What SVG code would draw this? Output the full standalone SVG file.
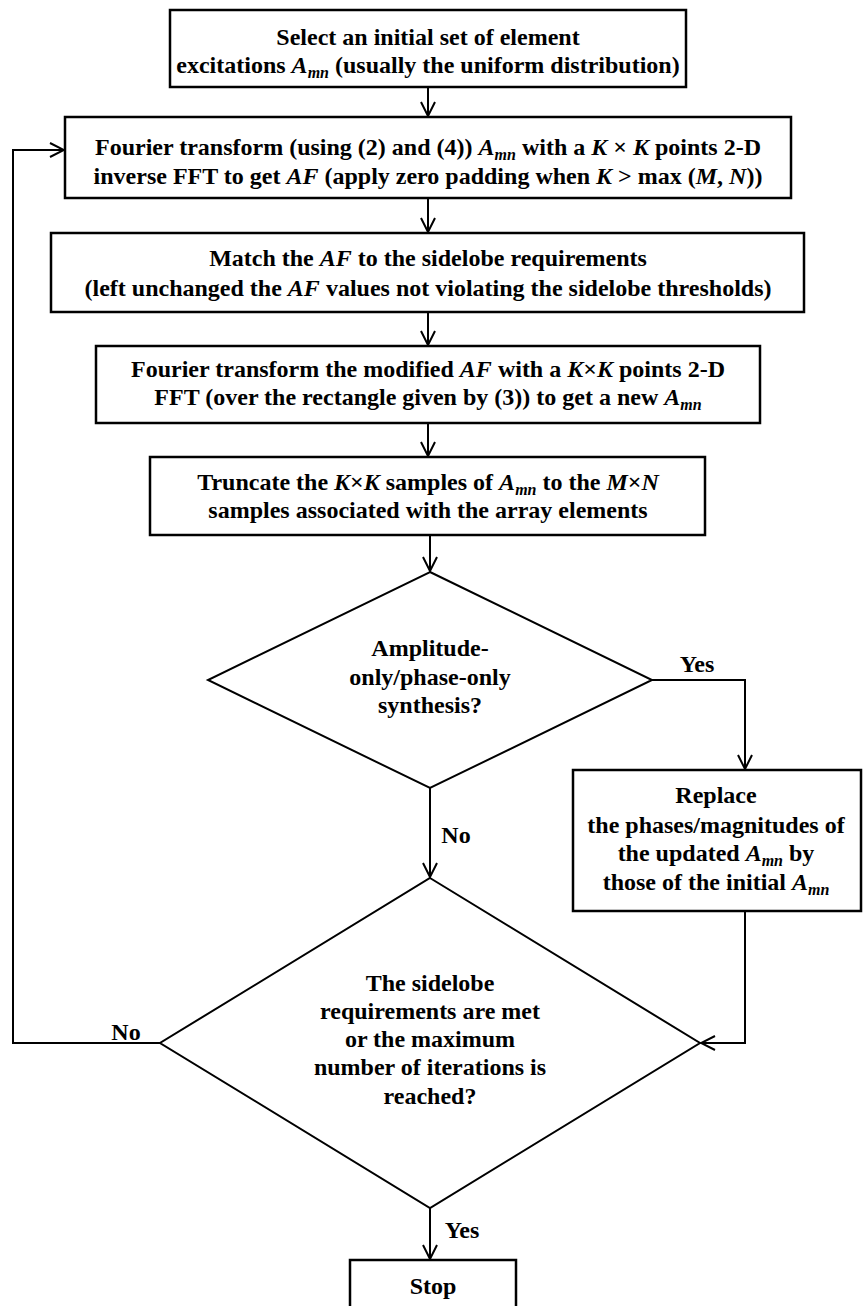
<svg xmlns="http://www.w3.org/2000/svg" width="864" height="1306" viewBox="0 0 864 1306">
<defs>
<style>
.box{fill:#fff;stroke:#000;stroke-width:2.5}
.dia{fill:#fff;stroke:#000;stroke-width:2}
.ln{fill:none;stroke:#000;stroke-width:2}
text{font-family:"Liberation Serif","Times New Roman",serif;font-weight:bold;font-size:24px;fill:#000;text-anchor:middle}
.i{font-style:italic}
.s{font-style:italic;font-size:16px}
</style>
<marker id="ah" viewBox="0 0 16 16" refX="15" refY="8" markerWidth="16" markerHeight="16" markerUnits="userSpaceOnUse" orient="auto">
<path d="M1,1 L15,8 L1,15" fill="none" stroke="#000" stroke-width="2"/>
</marker>
</defs>
<rect width="864" height="1306" fill="#fff"/>
<g id="connectors">
<path class="ln" d="M428,87 V116" marker-end="url(#ah)"/>
<path class="ln" d="M428,198 V232" marker-end="url(#ah)"/>
<path class="ln" d="M428,312 V345" marker-end="url(#ah)"/>
<path class="ln" d="M428,423 V456" marker-end="url(#ah)"/>
<path class="ln" d="M430,535 V571" marker-end="url(#ah)"/>
<path class="ln" d="M652,680 H745 V769" marker-end="url(#ah)"/>
<path class="ln" d="M430,788 V877" marker-end="url(#ah)"/>
<path class="ln" d="M745,911 V1043 H701" marker-end="url(#ah)"/>
<path class="ln" d="M160,1043 H13 V150 H64" marker-end="url(#ah)"/>
<path class="ln" d="M430,1208 V1259" marker-end="url(#ah)"/>
<text x="697" y="672">Yes</text>
<text x="456" y="843">No</text>
<text x="126" y="1040">No</text>
<text x="462" y="1238">Yes</text>
</g>
<g id="n1">
<rect class="box" x="170" y="10" width="516" height="77"/>
<text x="428" y="45">Select an initial set of element</text>
<text x="428" y="73">excitations <tspan class="i">A</tspan><tspan class="s" dy="5">mn</tspan><tspan dy="-5"> (usually the uniform distribution)</tspan></text>
</g>
<g id="n2">
<rect class="box" x="65" y="117" width="726" height="81"/>
<text x="428" y="155">Fourier transform (using (2) and (4)) <tspan class="i">A</tspan><tspan class="s" dy="5">mn</tspan><tspan dy="-5"> with a </tspan><tspan class="i">K</tspan> × <tspan class="i">K</tspan> points 2-D</text>
<text x="428" y="184">inverse FFT to get <tspan class="i">AF</tspan> (apply zero padding when <tspan class="i">K</tspan> &gt; max (<tspan class="i">M</tspan>, <tspan class="i">N</tspan>))</text>
</g>
<g id="n3">
<rect class="box" x="51" y="233" width="753" height="79"/>
<text x="428" y="266">Match the <tspan class="i">AF</tspan> to the sidelobe requirements</text>
<text x="428" y="296">(left unchanged the <tspan class="i">AF</tspan> values not violating the sidelobe thresholds)</text>
</g>
<g id="n4">
<rect class="box" x="96" y="346" width="664" height="77"/>
<text x="428" y="377">Fourier transform the modified <tspan class="i">AF</tspan> with a <tspan class="i">K</tspan>×<tspan class="i">K</tspan> points 2-D</text>
<text x="428" y="405">FFT (over the rectangle given by (3)) to get a new <tspan class="i">A</tspan><tspan class="s" dy="5">mn</tspan></text>
</g>
<g id="n5">
<rect class="box" x="150" y="457" width="555" height="78"/>
<text x="428" y="490">Truncate the <tspan class="i">K</tspan>×<tspan class="i">K</tspan> samples of <tspan class="i">A</tspan><tspan class="s" dy="5">mn</tspan><tspan dy="-5"> to the </tspan><tspan class="i">M</tspan>×<tspan class="i">N</tspan></text>
<text x="428" y="518">samples associated with the array elements</text>
</g>
<g id="d1">
<polygon class="dia" points="430,572 652,680 430,788 208,680"/>
<text x="430" y="656">Amplitude-</text>
<text x="430" y="685">only/phase-only</text>
<text x="430" y="713">synthesis?</text>
</g>
<g id="n6">
<rect class="box" x="573" y="770" width="288" height="141"/>
<text x="716" y="803">Replace</text>
<text x="716" y="833">the phases/magnitudes of</text>
<text x="716" y="861">the updated <tspan class="i">A</tspan><tspan class="s" dy="5">mn</tspan><tspan dy="-5"> by</tspan></text>
<text x="716" y="890">those of the initial <tspan class="i">A</tspan><tspan class="s" dy="5">mn</tspan></text>
</g>
<g id="d2">
<polygon class="dia" points="430,878 700,1043 430,1208 160,1043"/>
<text x="430" y="991">The sidelobe</text>
<text x="430" y="1019">requirements are met</text>
<text x="430" y="1047">or the maximum</text>
<text x="430" y="1075">number of iterations is</text>
<text x="430" y="1104">reached?</text>
</g>
<g id="n7">
<rect class="box" x="350" y="1260" width="166" height="60"/>
<text x="433" y="1294">Stop</text>
</g>
</svg>
